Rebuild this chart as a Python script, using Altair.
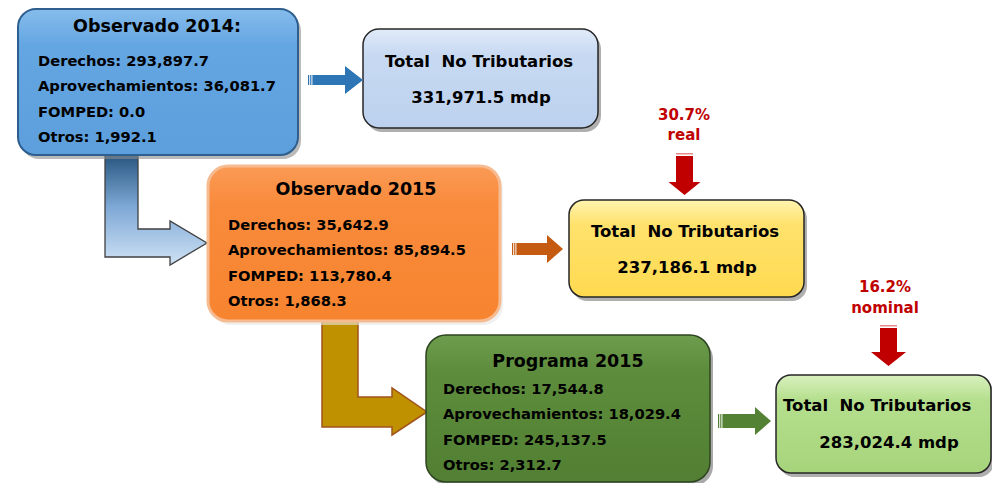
import altair as alt
import pandas as pd

# ---------------- data ----------------
panel_titles = ["Observado 2014:", "Observado 2015", "Programa 2015"]
concepts = ["Derechos", "Aprovechamientos", "FOMPED", "Otros"]
derechos = [293897.7, 35642.9, 17544.8]
aprovechamientos = [36081.7, 85894.5, 18029.4]
fomped = [0.0, 113780.4, 245137.5]
otros = [1992.1, 1868.3, 2312.7]
total_label = "Total\u00a0 No Tributarios"
totals = [331971.5, 237186.1, 283024.4]
unit = "mdp"
growth_pct = [None, 30.7, 16.2]
growth_kind = [None, "real", "nominal"]

# ---------------- layout (page pixels) ----------------
FONT = "DejaVu Sans"
PANEL_BOX = [(18, 298, 9, 155, 18), (208, 500, 166, 321, 20), (426, 710, 335, 482, 20)]
TOTAL_BOX = [(363, 598, 29, 128, 16), (569, 804, 200, 297, 15), (776, 991, 375, 473, 15)]
PANEL_TITLE_POS = [(157, 27), (356, 190), (568, 362)]
PANEL_LINE_X = [38, 228, 443]
PANEL_LINE_Y0 = [62, 226, 390]
PANEL_LINE_STEP = 25.3
TOTAL_LABEL_POS = [(479, 62, "center"), (685, 232, "center"), (783, 406, "left")]
TOTAL_VALUE_POS = [(481, 98), (687, 268), (889, 443)]
GROWTH_POS = [None, (684, 115, 135), (885, 287, 308)]
SIZE_TITLE, SIZE_LINE, SIZE_TOTAL, SIZE_GROWTH = 17.5, 14.7, 16.5, 15

PANEL_STYLE = [
    (["#86bcec", "#64a6e2", "#5d9fdc"], "#2f5f8f", 2, "#8c8c8c"),
    (["#fa9a55", "#f98b3c", "#f7842f"], "#f6bb90", 3, "#e6e6e6"),
    (["#6e9c4d", "#5d8d3c", "#527f33"], "#2e4421", 1.5, "#707070"),
]
TOTAL_STYLE = [
    (["#e1ebf9", "#c8daf2", "#bcd1ee"], "#262626", 1.5, "#7a7a7a"),
    (["#fff4b0", "#ffe26d", "#ffda50"], "#262626", 1.5, "#7a7a7a"),
    (["#d9f1c0", "#b5df8d", "#a6d47b"], "#262626", 1.5, "#7a7a7a"),
]

W, H = 984, 475
xs = alt.Scale(domain=[8, 8 + W], nice=False, zero=False)
ys = alt.Scale(domain=[8, 8 + H], nice=False, zero=False, reverse=True)
PROJ = dict(type="identity", scale=1, translate=[-8, -8])


def grad(stops):
    offs = [0, 0.25, 1]
    return alt.Gradient(
        gradient="linear", x1=0, x2=0, y1=0, y2=1,
        stops=[alt.GradientStop(offset=o, color=c) for o, c in zip(offs, stops)],
    )


def enc_rect(ch):
    return ch.encode(
        x=alt.X("x1:Q", scale=xs, axis=None), x2="x2:Q",
        y=alt.Y("y1:Q", scale=ys, axis=None), y2="y2:Q",
    )


def box_layers(box, style):
    x1, x2, y1, y2, r = box
    stops, stroke, sw, shadow = style
    sh = pd.DataFrame([{"x1": x1 + 3, "x2": x2 + 3, "y1": y1 + 4, "y2": y2 + 4}])
    bx = pd.DataFrame([{"x1": x1, "x2": x2, "y1": y1, "y2": y2}])
    s = enc_rect(alt.Chart(sh).mark_rect(cornerRadius=r, color=shadow, opacity=0.6))
    b = enc_rect(alt.Chart(bx).mark_rect(cornerRadius=r, fill=grad(stops),
                                          stroke=stroke, strokeWidth=sw))
    return [s, b]


def poly(pts, fill):
    pts = [list(p) for p in pts] + [list(pts[0])]
    return {"type": "Feature", "properties": {"fill": fill},
            "geometry": {"type": "Polygon", "coordinates": [pts]}}


def right_arrow(tail, head, tip, yc, sh, hh, fill):
    return [poly([(tail, yc - sh), (tail + 1.2, yc - sh), (tail + 1.2, yc + sh), (tail, yc + sh)], fill),
            poly([(tail + 2.2, yc - sh), (tail + 3.4, yc - sh), (tail + 3.4, yc + sh), (tail + 2.2, yc + sh)], fill),
            poly([(tail + 4.4, yc - sh), (head, yc - sh), (head, yc - hh), (tip, yc),
                  (head, yc + hh), (head, yc + sh), (tail + 4.4, yc + sh)], fill)]


def down_arrow(xc, top, head, tip, sh, hh, fill):
    return [poly([(xc - sh, top), (xc + sh, top), (xc + sh, top + 1.5), (xc - sh, top + 1.5)], "#e88a8a"),
            poly([(xc - sh, top + 3), (xc + sh, top + 3), (xc + sh, head), (xc + hh, head), (xc, tip),
                  (xc - hh, head), (xc - sh, head)], fill)]


feats = []
feats += right_arrow(308, 345, 363, 80, 5, 14, "#2e75b6")
feats += right_arrow(512, 547, 563, 249, 6, 14, "#c55a11")
feats += right_arrow(718, 755, 771, 421, 7, 14, "#548235")
feats += down_arrow(684.5, 153, 182, 195, 8.5, 16, "#c00000")
feats += down_arrow(888.5, 325, 352, 366, 8.5, 17.5, "#c00000")

small_arrows = alt.Chart(alt.Data(values=feats)).mark_geoshape(strokeWidth=0).encode(
    color=alt.Color("properties.fill:N", scale=None)
).project(**PROJ)

blue_elbow = alt.Chart(alt.Data(values=[poly(
    [(105, 150), (138, 150), (138, 229), (170, 229), (170, 221), (207, 243),
     (170, 265), (170, 257), (105, 257)], "x")])).mark_geoshape(
    fill=alt.Gradient(gradient="linear", x1=0, x2=0, y1=0, y2=1,
                      stops=[alt.GradientStop(offset=0, color="#1f4e79"),
                             alt.GradientStop(offset=0.5, color="#7fa9d6"),
                             alt.GradientStop(offset=1, color="#cfe2f5")]),
    stroke="#404040", strokeWidth=1.3).project(**PROJ)

gold_elbow = alt.Chart(alt.Data(values=[poly(
    [(322, 318), (358, 318), (358, 397), (392, 397), (392, 388), (427, 412),
     (392, 435), (392, 427), (322, 427)], "x")])).mark_geoshape(
    fill="#bf9000", stroke="#a0541c", strokeWidth=1.5).project(**PROJ)

layers = [blue_elbow, gold_elbow]
for i in range(3):
    layers += box_layers(PANEL_BOX[i], PANEL_STYLE[i])
    layers += box_layers(TOTAL_BOX[i], TOTAL_STYLE[i])
layers.append(small_arrows)

# ---------------- text ----------------
rows = []
values = [derechos, aprovechamientos, fomped, otros]
for i in range(3):
    tx, ty = PANEL_TITLE_POS[i]
    rows.append(dict(x=tx, y=ty, text=panel_titles[i], color="#000000", size=SIZE_TITLE, align="center"))
    for k, c in enumerate(concepts):
        rows.append(dict(x=PANEL_LINE_X[i], y=PANEL_LINE_Y0[i] + k * PANEL_LINE_STEP,
                         text=f"{c}: {values[k][i]:,.1f}", color="#000000", size=SIZE_LINE, align="left"))
    lx, ly, la = TOTAL_LABEL_POS[i]
    rows.append(dict(x=lx, y=ly, text=total_label, color="#000000", size=SIZE_TOTAL, align=la))
    vx, vy = TOTAL_VALUE_POS[i]
    rows.append(dict(x=vx, y=vy, text=f"{totals[i]:,.1f} {unit}", color="#000000", size=SIZE_TOTAL, align="center"))
    if growth_pct[i] is not None:
        gx, gy1, gy2 = GROWTH_POS[i]
        rows.append(dict(x=gx, y=gy1, text=f"{growth_pct[i]:.1f}%", color="#c00000", size=SIZE_GROWTH, align="center"))
        rows.append(dict(x=gx, y=gy2, text=growth_kind[i], color="#c00000", size=SIZE_GROWTH, align="center"))

tdf = pd.DataFrame(rows)
for al in ["left", "center"]:
    layers.append(
        alt.Chart(tdf[tdf["align"] == al]).mark_text(
            font=FONT, fontWeight="bold", baseline="middle", align=al
        ).encode(
            x=alt.X("x:Q", scale=xs, axis=None),
            y=alt.Y("y:Q", scale=ys, axis=None),
            text="text:N",
            color=alt.Color("color:N", scale=None),
            size=alt.Size("size:Q", scale=None),
        )
    )

chart = alt.layer(*layers).properties(
    width=W, height=H, padding=0, autosize=alt.AutoSizeParams(type="none"),
    background="white",
).configure_view(stroke=None)

chart.save("out.html", embed_options={"renderer": "svg", "actions": False})
